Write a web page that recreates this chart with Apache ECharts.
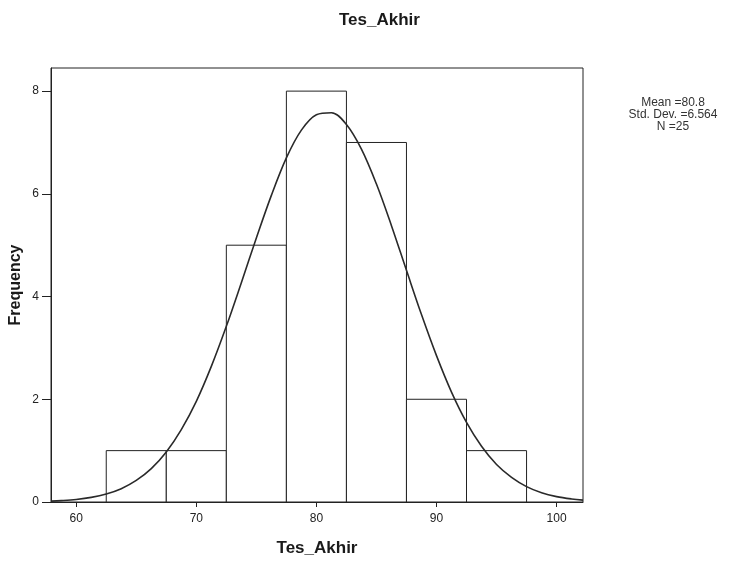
<!DOCTYPE html>
<html>
<head>
<meta charset="utf-8">
<script src="https://cdn.jsdelivr.net/npm/echarts@6/dist/echarts.min.js"></script>
<style>html,body{margin:0;padding:0;background:#fff;}#c{width:733px;height:563px;}</style>
</head>
<body>
<div id="c"></div>
<script>
// Histogram bins (start, end) and frequencies
var binStarts = [62.5, 67.5, 72.5, 77.5, 82.5, 87.5, 92.5];
var binWidth = 5;
var frequencies = [1, 1, 5, 8, 7, 2, 1];
// Normal curve points
var curveX = [57.9, 58.75, 60, 61.25, 62.5, 63.75, 65, 66.25, 67.5, 68.75, 70, 71.25, 72.5, 73.75, 75, 76.25, 77.5, 78.75, 80, 81.25, 82.5, 83.75, 85, 86.25, 87.5, 88.75, 90, 91.25, 92.5, 93.75, 95, 96.25, 97.5, 98.75, 100, 101.25, 102.2];
var curveY = [0.017, 0.027, 0.05, 0.09, 0.156, 0.26, 0.42, 0.65, 0.975, 1.41, 1.96, 2.64, 3.42, 4.27, 5.14, 5.97, 6.70, 7.24, 7.54, 7.58, 7.35, 6.87, 6.19, 5.38, 4.51, 3.65, 2.85, 2.14, 1.55, 1.085, 0.73, 0.48, 0.30, 0.18, 0.105, 0.059, 0.037];
var xTicks = [60, 70, 80, 90, 100];
var yTicks = [0, 2, 4, 6, 8];
var statsLines = ['Mean =80.8', 'Std. Dev. =6.564', 'N =25'];

var histData = binStarts.map(function (s, i) { return [s, s + binWidth, frequencies[i]]; });
var curveData = curveX.map(function (x, i) { return [x, curveY[i]]; });

var chart = echarts.init(document.getElementById('c'));
var FONT = 'Liberation Sans, Arial, sans-serif';
chart.setOption({
  animation: false,
  backgroundColor: '#fff',
  title: {
    text: 'Tes_Akhir',
    left: 334,
    top: 7,
    textStyle: { fontFamily: FONT, fontSize: 17, fontWeight: 'bold', color: '#1a1a1a' }
  },
  grid: {
    left: 51, right: 150, top: 68, bottom: 61,
    containLabel: false,
    outerBoundsMode: 'none',
    show: true, borderColor: '#222', borderWidth: 1, backgroundColor: 'transparent'
  },
  xAxis: {
    type: 'value',
    min: 57.9, max: 102.2,
    name: 'Tes_Akhir',
    nameLocation: 'middle',
    nameGap: 38,
    nameMoveOverlap: false,
    nameTextStyle: { fontFamily: FONT, fontSize: 17, fontWeight: 'bold', color: '#1a1a1a' },
    axisLine: { show: true, onZero: false, lineStyle: { color: '#222', width: 1 } },
    axisTick: { show: true, length: 5, customValues: xTicks, lineStyle: { color: '#222' } },
    axisLabel: { customValues: xTicks, margin: 11, fontFamily: FONT, fontSize: 12, color: '#222' },
    splitLine: { show: false }
  },
  yAxis: {
    type: 'value',
    min: 0, max: 8.45,
    name: 'Frequency',
    nameLocation: 'middle',
    nameGap: 27,
    nameMoveOverlap: false,
    nameTextStyle: { fontFamily: FONT, fontSize: 16, fontWeight: 'bold', color: '#1a1a1a' },
    axisLine: { show: true, lineStyle: { color: '#222', width: 1 } },
    axisTick: { show: true, length: 9, customValues: yTicks, lineStyle: { color: '#222' } },
    axisLabel: { customValues: yTicks, margin: 12, fontFamily: FONT, fontSize: 12, color: '#222' },
    splitLine: { show: false }
  },
  series: [
    {
      type: 'custom',
      data: histData,
      encode: { x: [0, 1], y: 2 },
      renderItem: function (params, api) {
        var p0 = api.coord([api.value(0), 0]);
        var p1 = api.coord([api.value(1), api.value(2)]);
        return {
          type: 'rect',
          shape: { x: p0[0], y: p1[1], width: p1[0] - p0[0], height: p0[1] - p1[1] },
          style: { fill: '#fff', stroke: '#222', lineWidth: 1 }
        };
      },
      z: 2
    },
    {
      type: 'line',
      data: curveData,
      smooth: 0.35,
      showSymbol: false,
      lineStyle: { color: '#2a2a2a', width: 1.6 },
      z: 3
    }
  ],
  graphic: statsLines.map(function (t, i) {
    return {
      type: 'text',
      x: 673, y: 103 + i * 12,
      style: { text: t, fontFamily: FONT, fontSize: 12, fill: '#333', textAlign: 'center', textVerticalAlign: 'middle' }
    };
  })
});
</script>
</body>
</html>
